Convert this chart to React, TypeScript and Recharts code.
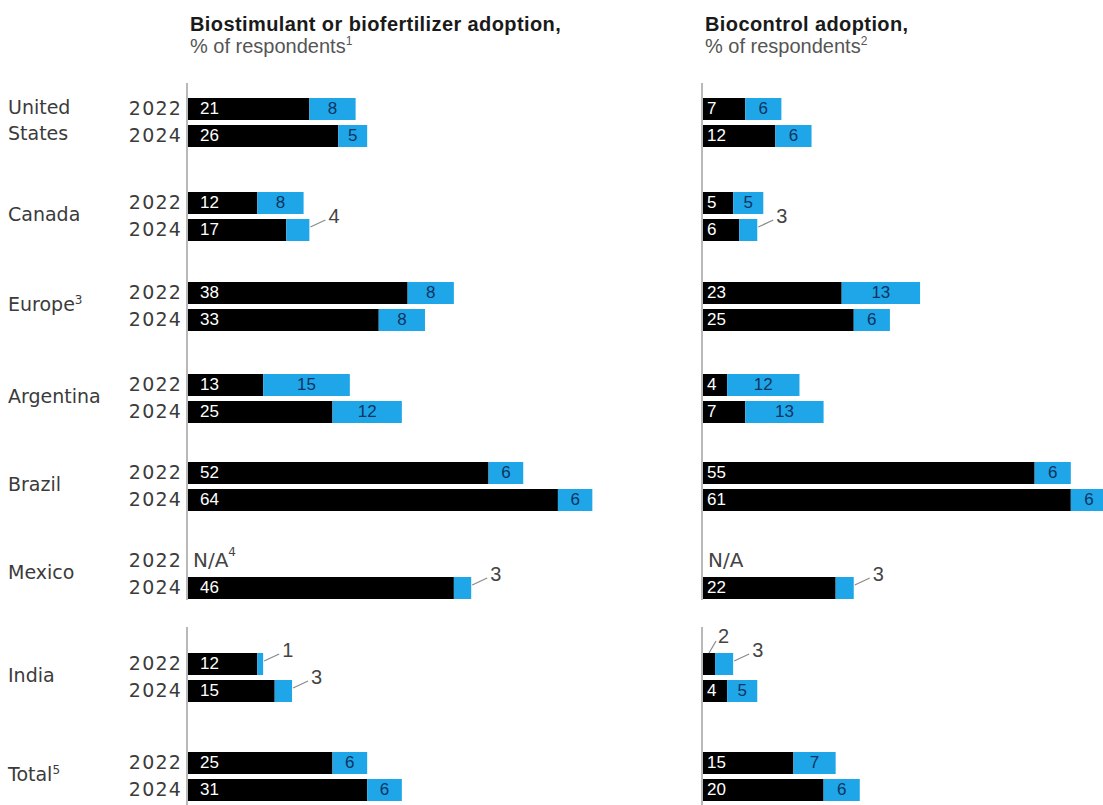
import React from "react";
import { BarChart, Bar, XAxis, YAxis, LabelList } from "recharts";

// regions, top to bottom
const regions = ["United States", "Canada", "Europe", "Argentina", "Brazil", "Mexico", "India", "Total"];
const regionNotes = ["", "", "3", "", "", "", "", "5"];
const years = ["2022", "2024"];

// % of respondents, [2022, 2024] per region; null = N/A
const stimUsing = [[21, 26], [12, 17], [38, 33], [13, 25], [52, 64], [null, 46], [12, 15], [25, 31]];
const stimPlanning = [[8, 5], [8, 4], [8, 8], [15, 12], [6, 6], [null, 3], [1, 3], [6, 6]];
const controlUsing = [[7, 12], [5, 6], [23, 25], [4, 7], [55, 61], [null, 22], [2, 4], [15, 20]];
const controlPlanning = [[6, 6], [5, 3], [13, 6], [12, 13], [6, 6], [null, 3], [3, 5], [7, 6]];

const BLUE = "#1fa6e8";
const NAVY = "#0d3460";
const TEXT = "#3b3b3b";
const SANS = "'Liberation Sans', Arial, sans-serif";
const WIDE = "'DejaVu Sans', sans-serif";

const BAND = 27;
const BAR = 22;
const PAD_TOP = 24;
const PAD_RIGHT = 40;
// top edge of each region's 2022 bar
const groupBarTop = [97, 191, 281, 373, 461, 549.5, 652, 751];
const axisSegments = [[83, 600], [627, 805]];

const panels = [
  {
    title: "Biostimulant or biofertilizer adoption,",
    note: "1",
    axisX: 188,
    axisWidth: 78,
    max: 70,
    pxPerUnit: 5.78,
    using: stimUsing,
    planning: stimPlanning,
    naNote: "4",
    showYears: true,
    blackInset: 12,
  },
  {
    title: "Biocontrol adoption,",
    note: "2",
    axisX: 703,
    axisWidth: 20,
    max: 67,
    pxPerUnit: 6.03,
    using: controlUsing,
    planning: controlPlanning,
    naNote: "",
    showYears: false,
    blackInset: 4,
  },
];

function SegmentLabel(props: any) {
  const { kind, blackInset } = props;
  const vb = props.viewBox || props;
  const { x, y, width, height } = vb;
  const value = props.value;
  if (value == null || !width || width <= 0) return null;
  const cy = y + height / 2;
  if (width >= 23.6) {
    if (kind === "using") {
      return (
        <text x={x + blackInset} y={cy} dominantBaseline="central" fill="#fff" fontSize={17} fontFamily={SANS}>
          {value}
        </text>
      );
    }
    return (
      <text x={x + width / 2} y={cy} textAnchor="middle" dominantBaseline="central" fill={NAVY} fontSize={17} fontFamily={SANS}>
        {value}
      </text>
    );
  }
  // too narrow: label outside with a short leader line
  if (kind === "planning") {
    const e = x + width;
    return (
      <g>
        <line x1={e + 1} y1={y + 8} x2={e + 16} y2={y + 1} stroke="#8a8a8a" strokeWidth={1.2} />
        <text x={e + 19} y={y + 4} fill="#444" fontSize={20} fontFamily={SANS}>
          {value}
        </text>
      </g>
    );
  }
  const c = x + width / 2;
  return (
    <g>
      <line x1={c} y1={y} x2={c + 7} y2={y - 12} stroke="#8a8a8a" strokeWidth={1.2} />
      <text x={c + 9} y={y - 10} fill="#444" fontSize={20} fontFamily={SANS}>
        {value}
      </text>
    </g>
  );
}

function RowTick(props: any) {
  const { x, y, payload, index, rows, showYears, naNote, tickMargin } = props;
  const row = rows[index];
  return (
    <g>
      {showYears && (
        <text x={x} y={y} textAnchor="end" dominantBaseline="central" fill={TEXT} fontSize={19} letterSpacing={1.2} fontFamily={WIDE}>
          {payload.value}
        </text>
      )}
      {row && row.using == null && (
        <text x={x + tickMargin + 5} y={y} dominantBaseline="central" fill="#444" fontSize={20} fontFamily={WIDE}>
          N/A
          {naNote && (
            <tspan fontSize={12} dy={-8}>
              {naNote}
            </tspan>
          )}
        </text>
      )}
    </g>
  );
}

function RegionBars({ panel, g }: { panel: any; g: number }) {
  const rows = years.map((year, i) => ({
    year,
    using: panel.using[g][i],
    planning: panel.planning[g][i],
  }));
  const plotW = panel.max * panel.pxPerUnit;
  const width = panel.axisWidth + plotW + PAD_RIGHT;
  const height = PAD_TOP + BAND * 2;
  const tickMargin = 6;
  return (
    <div
      style={{
        position: "absolute",
        left: panel.axisX - panel.axisWidth,
        top: groupBarTop[g] - (BAND - BAR) / 2 - PAD_TOP,
      }}
    >
      <BarChart
        layout="vertical"
        width={width}
        height={height}
        data={rows}
        margin={{ top: PAD_TOP, right: PAD_RIGHT, bottom: 0, left: 0 }}
        barSize={BAR}
      >
        <XAxis type="number" hide domain={[0, panel.max]} allowDataOverflow />
        <YAxis
          type="category"
          dataKey="year"
          width={panel.axisWidth}
          axisLine={false}
          tickLine={false}
          tickSize={0}
          tickMargin={tickMargin}
          interval={0}
          tick={(p: any) => (
            <RowTick {...p} rows={rows} showYears={panel.showYears} naNote={panel.naNote} tickMargin={tickMargin} />
          )}
        />
        <Bar dataKey="using" stackId="s" fill="#000" isAnimationActive={false}>
          <LabelList dataKey="using" content={(p: any) => <SegmentLabel {...p} kind="using" blackInset={panel.blackInset} />} />
        </Bar>
        <Bar dataKey="planning" stackId="s" fill={BLUE} isAnimationActive={false}>
          <LabelList dataKey="planning" content={(p: any) => <SegmentLabel {...p} kind="planning" />} />
        </Bar>
      </BarChart>
    </div>
  );
}

export default function App() {
  return (
    <div
      style={{
        position: "absolute",
        left: 0,
        top: 0,
        width: 1103,
        height: 805,
        overflow: "hidden",
        background: "#fff",
        fontFamily: SANS,
      }}
    >
      {panels.map((panel, p) => (
        <div key={p}>
          <div style={{ position: "absolute", left: panel.axisX + 2, top: 13, whiteSpace: "nowrap", lineHeight: "22px" }}>
            <div style={{ fontWeight: 700, fontSize: 20, color: "#1a1a1a", letterSpacing: 0.4 }}>{panel.title}</div>
            <div style={{ fontSize: 20, color: "#555" }}>
              % of respondents
              <sup style={{ fontSize: 12, lineHeight: 0 }}>{panel.note}</sup>
            </div>
          </div>
          {axisSegments.map(([a, b], i) => (
            <div
              key={i}
              style={{ position: "absolute", left: panel.axisX - 2, top: a, width: 2, height: b - a, background: "#b9b9b9" }}
            />
          ))}
          {regions.map((_, g) => (
            <RegionBars key={g} panel={panel} g={g} />
          ))}
        </div>
      ))}
      {regions.map((name, g) => (
        <div
          key={name}
          style={{
            position: "absolute",
            left: 8,
            top: groupBarTop[g] + 22.5,
            transform: "translateY(-50%)",
            fontFamily: WIDE,
            fontSize: 19,
            lineHeight: "26px",
            color: TEXT,
            width: 110,
          }}
        >
          {name === "United States" ? (
            <>
              United
              <br />
              States
            </>
          ) : (
            name
          )}
          {regionNotes[g] && <sup style={{ fontSize: 12, lineHeight: 0 }}>{regionNotes[g]}</sup>}
        </div>
      ))}
    </div>
  );
}
